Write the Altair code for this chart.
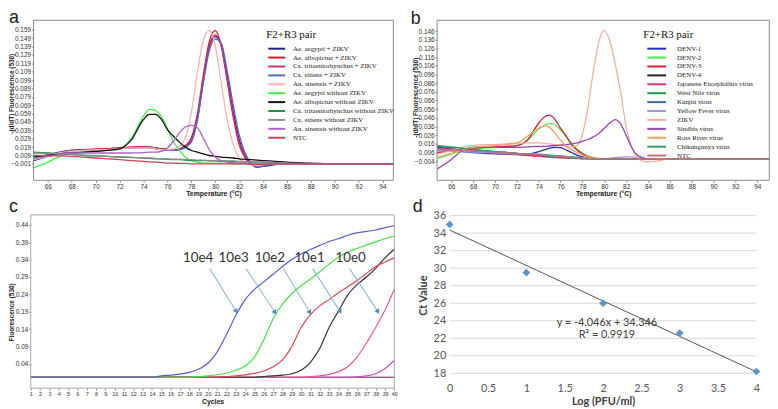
import altair as alt
import pandas as pd

SANS = "Liberation Sans"
SERIF = "Liberation Serif"
CAL = "Lato"

# ---------------- Panel a : melt curves, mosquito samples ----------------
A_TEMP = [64.8, 66, 67, 68, 69, 70, 71, 72, 73, 74, 74.5, 75, 75.5, 76, 76.5, 77, 77.5,
          78, 78.5, 79, 79.5, 80, 80.5, 81, 81.5, 82, 82.5, 83, 83.5, 84, 84.5, 85,
          86, 88, 90, 92, 94, 94.9]
A_NAMES = ["Ae. aegypti + ZIKV", "Ae. albopictus + ZIKV", "Cx. tritaeniorhynchus + ZIKV",
           "Cx. sitiens + ZIKV", "An. sinensis + ZIKV", "Ae. aegypti without ZIKV",
           "Ae. albopictus without ZIKV", "Cx. tritaeniorhynchus without ZIKV",
           "Cx. sitiens without ZIKV", "An. sinensis without ZIKV", "NTC"]
A_COLORS = ["#1e1e8c", "#e8112d", "#c8336a", "#4a6ad2", "#f9b3ac", "#48ee48",
            "#111111", "#1b9640", "#8c8c8c", "#b064c4", "#d0405c"]

A_AEG_ZIKV = [0.003, 0.008, 0.012, 0.015, 0.016, 0.016, 0.017, 0.018, 0.0185, 0.019,
              0.019, 0.018, 0.017, 0.016, 0.015, 0.016, 0.019, 0.026, 0.052, 0.098,
              0.138, 0.151, 0.142, 0.104, 0.062, 0.028, 0.009, -0.001, -0.005, -0.004,
              -0.003, -0.002, -0.001, -0.001, -0.001, -0.001, -0.001, -0.001]
A_ALB_ZIKV = [0.005, 0.009, 0.013, 0.015, 0.016, 0.017, 0.017, 0.018, 0.019, 0.0195,
              0.019, 0.018, 0.017, 0.016, 0.0155, 0.017, 0.021, 0.030, 0.058, 0.105,
              0.145, 0.158, 0.140, 0.098, 0.055, 0.022, 0.006, -0.001, -0.004, -0.003,
              -0.002, -0.001, -0.001, -0.001, -0.001, -0.001, -0.001, -0.001]
A_TRI_ZIKV = [0.004, 0.009, 0.012, 0.014, 0.015, 0.016, 0.017, 0.018, 0.019, 0.019,
              0.019, 0.018, 0.017, 0.016, 0.015, 0.016, 0.020, 0.028, 0.055, 0.100,
              0.140, 0.153, 0.140, 0.100, 0.058, 0.025, 0.008, -0.001, -0.004, -0.003,
              -0.002, -0.001, -0.001, -0.001, -0.001, -0.001, -0.001, -0.001]
A_SIT_ZIKV = [0.006, 0.010, 0.013, 0.015, 0.015, 0.016, 0.016, 0.017, 0.018, 0.018,
              0.018, 0.017, 0.016, 0.015, 0.015, 0.016, 0.019, 0.025, 0.050, 0.095,
              0.134, 0.148, 0.143, 0.110, 0.070, 0.034, 0.012, 0.000, -0.004, -0.004,
              -0.002, -0.001, -0.001, -0.001, -0.001, -0.001, -0.001, -0.001]
A_SIN_ZIKV = [0.004, 0.008, 0.012, 0.014, 0.015, 0.016, 0.016, 0.017, 0.018, 0.018,
              0.018, 0.017, 0.016, 0.016, 0.017, 0.020, 0.030, 0.060, 0.108, 0.146,
              0.158, 0.140, 0.096, 0.052, 0.022, 0.006, 0.000, -0.002, -0.003, -0.002,
              -0.001, -0.001, -0.001, -0.001, -0.001, -0.001, -0.001, -0.001]
A_AEG_NEG = [-0.006, 0.001, 0.008, 0.012, 0.013, 0.014, 0.015, 0.017, 0.030, 0.056,
             0.064, 0.063, 0.055, 0.041, 0.026, 0.015, 0.007, 0.003, 0.001, 0.000,
             0.000, 0.000, 0.000, 0.000, -0.001, -0.001, -0.001, -0.001, -0.001, -0.001,
             -0.001, -0.001, -0.001, -0.001, -0.001, -0.001, -0.001, -0.001]
A_ALB_NEG = [0.008, 0.009, 0.011, 0.012, 0.013, 0.014, 0.015, 0.017, 0.028, 0.052,
             0.058, 0.058, 0.052, 0.040, 0.032, 0.025, 0.019, 0.015, 0.013, 0.011,
             0.009, 0.008, 0.007, 0.0065, 0.006, 0.005, 0.0045, 0.004, 0.0035, 0.003,
             0.0025, 0.002, 0.001, 0.000, -0.001, -0.001, -0.001, -0.001]
A_TRI_NEG = [0.013, 0.012, 0.011, 0.010, 0.009, 0.0085, 0.008, 0.007, 0.0065, 0.006,
             0.0055, 0.005, 0.005, 0.0045, 0.004, 0.004, 0.0035, 0.003, 0.003, 0.003,
             0.0025, 0.0025, 0.002, 0.002, 0.002, 0.0015, 0.0015, 0.001, 0.001, 0.001,
             0.0005, 0.0005, 0.000, -0.001, -0.001, -0.001, -0.001, -0.001]
A_SIT_NEG = [0.012, 0.0115, 0.011, 0.0105, 0.0095, 0.009, 0.008, 0.0075, 0.007, 0.006,
             0.006, 0.0055, 0.005, 0.005, 0.0045, 0.0045, 0.004, 0.004, 0.0035, 0.0035,
             0.003, 0.003, 0.003, 0.0025, 0.0025, 0.002, 0.002, 0.0015, 0.0015, 0.001,
             0.001, 0.0005, 0.000, -0.0005, -0.001, -0.001, -0.001, -0.001]
A_SIN_NEG = [0.006, 0.008, 0.010, 0.012, 0.012, 0.012, 0.012, 0.012, 0.012, 0.0125,
             0.013, 0.013, 0.014, 0.018, 0.026, 0.036, 0.043, 0.045, 0.042, 0.030,
             0.016, 0.007, 0.003, 0.001, 0.0005, 0.000, 0.000, -0.001, -0.001, -0.001,
             -0.001, -0.001, -0.001, -0.001, -0.001, -0.001, -0.001, -0.001]
A_NTC = [0.009, 0.0088, 0.0085, 0.008, 0.007, 0.006, 0.005, 0.004, 0.003, 0.002,
         0.0015, 0.001, 0.0005, 0.000, 0.000, -0.0005, -0.0005, -0.001, -0.001, -0.001,
         -0.001, -0.001, -0.001, -0.001, -0.001, -0.001, -0.001, -0.0015, -0.0015, -0.0015,
         -0.001, -0.001, -0.001, -0.001, -0.001, -0.001, -0.001, -0.001]
A_SERIES = [A_AEG_ZIKV, A_ALB_ZIKV, A_TRI_ZIKV, A_SIT_ZIKV, A_SIN_ZIKV, A_AEG_NEG,
            A_ALB_NEG, A_TRI_NEG, A_SIT_NEG, A_SIN_NEG, A_NTC]
A_XTICKS = [66, 68, 70, 72, 74, 76, 78, 80, 82, 84, 86, 88, 90, 92, 94]
A_YTICKS = [-0.001, 0.009, 0.019, 0.029, 0.039, 0.049, 0.059, 0.069, 0.079, 0.089,
            0.099, 0.109, 0.119, 0.129, 0.139, 0.149, 0.159]
A_XDOM = [64.8, 94.9]
A_YDOM = [-0.0206, 0.1704]

# ---------------- Panel b : melt curves, other viruses ----------------
B_TEMP = [64.7, 66, 67, 68, 69, 70, 71, 72, 73, 74, 74.5, 75, 75.5, 76, 76.5, 77, 77.5,
          78, 78.5, 79, 79.5, 80, 80.5, 81, 81.5, 82, 82.5, 83, 83.5, 84, 84.5, 85,
          86, 88, 90, 92, 94, 95.1]
B_NAMES = ["DENV-1", "DENV-2", "DENV-3", "DENV-4", "Japanese Encephalitis virus",
           "West Nile virus", "Kunjin virus", "Yellow Fever virus", "ZIKV", "Sindbis virus",
           "Ross River virus", "Chikungunya virus", "NTC"]
B_COLORS = ["#2430c4", "#4cf04c", "#d61e40", "#222222", "#e0307a", "#1c9a44", "#3468b8",
            "#9a9ad2", "#f6ae9c", "#9a42b4", "#f0a060", "#2e9e62", "#c07272"]
B_DENV1 = [0.009, 0.008, 0.007, 0.006, 0.005, 0.0045, 0.004, 0.0035, 0.004, 0.007,
           0.009, 0.011, 0.012, 0.0115, 0.009, 0.006, 0.003, 0.001, 0.000, -0.001,
           -0.001, -0.001, -0.001, -0.001, -0.001, -0.001, -0.001, -0.001, -0.001, -0.001,
           -0.001, -0.001, -0.001, -0.001, -0.001, -0.001, -0.001, -0.001]
B_DENV2 = [-0.001, 0.004, 0.008, 0.010, 0.011, 0.012, 0.013, 0.014, 0.020, 0.033,
           0.037, 0.0395, 0.038, 0.032, 0.025, 0.017, 0.010, 0.0055, 0.002, 0.000,
           -0.001, -0.001, -0.001, -0.001, -0.001, -0.001, -0.001, -0.001, -0.001, -0.001,
           -0.001, -0.001, -0.001, -0.001, -0.001, -0.001, -0.001, -0.001]
B_DENV3 = [0.006, 0.008, 0.010, 0.011, 0.012, 0.0125, 0.013, 0.014, 0.021, 0.040,
           0.047, 0.049, 0.044, 0.034, 0.025, 0.015, 0.009, 0.0045, 0.001, 0.000,
           -0.001, -0.001, -0.001, -0.001, -0.001, -0.001, -0.001, -0.001, -0.001, -0.001,
           -0.001, -0.001, -0.001, -0.001, -0.001, -0.001, -0.001, -0.001]
B_DENV4 = [0.012, 0.010, 0.009, 0.008, 0.007, 0.006, 0.005, 0.004, 0.003, 0.002,
           0.0015, 0.001, 0.0005, 0.000, 0.000, -0.0005, -0.0005, -0.001, -0.001, -0.001,
           -0.001, -0.001, -0.001, -0.001, -0.001, -0.001, -0.001, -0.001, -0.001, -0.001,
           -0.001, -0.001, -0.001, -0.001, -0.001, -0.001, -0.001, -0.001]
B_JEV = [0.011, 0.0095, 0.0085, 0.0075, 0.0065, 0.0055, 0.0045, 0.0035, 0.0025, 0.0015,
         0.001, 0.0005, 0.000, 0.000, -0.0005, -0.0005, -0.001, -0.001, -0.001, -0.001,
         -0.001, -0.001, -0.001, -0.001, -0.001, -0.001, -0.001, -0.001, -0.001, -0.001,
         -0.001, -0.001, -0.001, -0.001, -0.001, -0.001, -0.001, -0.001]
B_WNV = [0.014, 0.012, 0.0105, 0.009, 0.008, 0.007, 0.006, 0.005, 0.004, 0.003,
         0.0025, 0.002, 0.0015, 0.001, 0.0005, 0.000, 0.000, -0.0005, -0.001, -0.001,
         -0.001, -0.001, -0.001, -0.001, -0.001, -0.001, -0.001, -0.001, -0.001, -0.001,
         -0.001, -0.001, -0.001, -0.001, -0.001, -0.001, -0.001, -0.001]
B_KUN = [0.013, 0.0115, 0.010, 0.009, 0.008, 0.007, 0.006, 0.005, 0.0045, 0.004,
         0.0035, 0.003, 0.0025, 0.002, 0.0015, 0.001, 0.0005, 0.000, -0.0005, -0.001,
         -0.001, -0.001, -0.001, -0.001, -0.001, -0.001, -0.001, -0.001, -0.001, -0.001,
         -0.001, -0.001, -0.001, -0.001, -0.001, -0.001, -0.001, -0.001]
B_YFV = [0.008, 0.0075, 0.007, 0.0065, 0.006, 0.0055, 0.005, 0.0045, 0.004, 0.0035,
         0.003, 0.0025, 0.002, 0.0015, 0.001, 0.0005, 0.000, 0.000, -0.0005, -0.001,
         -0.001, -0.001, -0.0005, 0.000, 0.0005, 0.001, 0.001, 0.000, -0.001, -0.001,
         -0.001, -0.001, -0.001, -0.001, -0.001, -0.001, -0.001, -0.001]
B_ZIKV = [0.004, 0.008, 0.012, 0.014, 0.015, 0.015, 0.016, 0.0165, 0.017, 0.017,
          0.0165, 0.016, 0.015, 0.0145, 0.013, 0.0125, 0.014, 0.027, 0.058, 0.100,
          0.134, 0.147, 0.135, 0.108, 0.075, 0.036, 0.012, 0.000, -0.004, -0.005,
          -0.0045, -0.0035, -0.001, -0.001, -0.001, -0.001, -0.001, -0.001]
B_SINV = [-0.013, -0.002, 0.008, 0.012, 0.012, 0.012, 0.012, 0.012, 0.0125, 0.013,
          0.013, 0.0135, 0.014, 0.0145, 0.015, 0.016, 0.017, 0.019, 0.021, 0.024,
          0.028, 0.034, 0.040, 0.044, 0.039, 0.026, 0.012, 0.003, 0.000, -0.001,
          -0.001, -0.001, -0.001, -0.001, -0.001, -0.001, -0.001, -0.001]
B_RRV = [0.000, 0.005, 0.009, 0.012, 0.013, 0.014, 0.015, 0.017, 0.025, 0.034,
         0.037, 0.035, 0.028, 0.020, 0.013, 0.009, 0.006, 0.003, 0.001, 0.000,
         -0.001, -0.001, -0.001, -0.001, -0.001, -0.001, -0.001, -0.001, -0.001, -0.001,
         -0.001, -0.001, -0.001, -0.001, -0.001, -0.001, -0.001, -0.001]
B_CHIKV = [0.014, 0.0125, 0.011, 0.0095, 0.008, 0.007, 0.006, 0.005, 0.004, 0.003,
           0.0025, 0.002, 0.0015, 0.001, 0.0005, 0.000, -0.0005, -0.001, -0.001, -0.001,
           -0.001, -0.001, -0.001, -0.001, -0.001, -0.001, -0.001, -0.001, -0.001, -0.001,
           -0.001, -0.001, -0.001, -0.001, -0.001, -0.001, -0.001, -0.001]
B_NTC = [0.010, 0.009, 0.0085, 0.008, 0.007, 0.0065, 0.006, 0.005, 0.004, 0.0035,
         0.003, 0.0025, 0.002, 0.0015, 0.001, 0.0005, 0.000, -0.0005, -0.001, -0.001,
         -0.001, -0.001, -0.001, -0.001, -0.001, -0.001, -0.001, -0.001, -0.001, -0.001,
         -0.001, -0.001, -0.001, -0.001, -0.001, -0.001, -0.001, -0.001]
B_SERIES = [B_DENV1, B_DENV2, B_DENV3, B_DENV4, B_JEV, B_WNV, B_KUN, B_YFV, B_ZIKV,
            B_SINV, B_RRV, B_CHIKV, B_NTC]
B_YTICKS = [-0.004, 0.006, 0.016, 0.026, 0.036, 0.046, 0.056, 0.066, 0.076, 0.086,
            0.096, 0.106, 0.116, 0.126, 0.136, 0.146]
B_XDOM = [64.7, 95.1]
B_YDOM = [-0.0261, 0.1586]

# ---------------- Panel c : amplification curves ----------------
C_CYCLES = [1, 2, 3, 4, 5, 6, 7, 8, 9, 10, 11, 12, 13, 14, 15, 16, 17, 18, 19, 20,
            21, 22, 23, 24, 25, 26, 27, 28, 29, 30, 31, 32, 33, 34, 35, 36, 37, 38, 39, 40]
C_NAMES = ["flat1", "flat2", "low", "10e0", "10e1", "10e2", "10e3", "10e4"]
C_COLORS = ["#f0a040", "#7040a0", "#c850c8", "#f0578a", "#333333", "#e5434f", "#44e044", "#5a5ad8"]
C_FLAT1 = [0.002, 0.002, 0.002, 0.002, 0.002, 0.002, 0.002, 0.002, 0.002, 0.002,
           0.002, 0.002, 0.002, 0.002, 0.002, 0.002, 0.002, 0.002, 0.002, 0.002,
           0.002, 0.002, 0.002, 0.002, 0.002, 0.002, 0.002, 0.002, 0.002, 0.002,
           0.002, 0.002, 0.002, 0.002, 0.002, 0.002, 0.002, 0.002, 0.002, 0.002]
C_FLAT2 = [0.002, 0.002, 0.002, 0.0015, 0.002, 0.002, 0.002, 0.002, 0.002, 0.002,
           0.002, 0.002, 0.002, 0.002, 0.002, 0.002, 0.002, 0.002, 0.002, 0.002,
           0.002, 0.002, 0.002, 0.002, 0.002, 0.002, 0.002, 0.002, 0.002, 0.002,
           0.002, 0.002, 0.002, 0.002, 0.002, 0.002, 0.002, 0.002, 0.002, 0.002]
C_LOW = [0.002, 0.002, 0.002, 0.002, 0.002, 0.002, 0.002, 0.002, 0.002, 0.002,
         0.002, 0.002, 0.002, 0.002, 0.002, 0.002, 0.002, 0.002, 0.002, 0.002,
         0.002, 0.002, 0.002, 0.002, 0.002, 0.002, 0.002, 0.002, 0.002, 0.002,
         0.002, 0.002, 0.002, 0.002, 0.002, 0.003, 0.006, 0.012, 0.027, 0.050]
C_10E0 = [0.002, 0.002, 0.002, 0.002, 0.002, 0.002, 0.002, 0.002, 0.002, 0.002,
          0.002, 0.002, 0.002, 0.002, 0.002, 0.002, 0.002, 0.002, 0.002, 0.002,
          0.002, 0.002, 0.002, 0.002, 0.002, 0.002, 0.002, 0.002, 0.002, 0.002,
          0.004, 0.006, 0.010, 0.018, 0.032, 0.060, 0.100, 0.145, 0.195, 0.255]
C_10E1 = [0.002, 0.002, 0.002, 0.002, 0.002, 0.002, 0.002, 0.002, 0.002, 0.002,
          0.002, 0.002, 0.002, 0.002, 0.002, 0.002, 0.002, 0.002, 0.002, 0.002,
          0.002, 0.002, 0.002, 0.002, 0.002, 0.004, 0.006, 0.008, 0.012, 0.022,
          0.045, 0.085, 0.145, 0.192, 0.238, 0.268, 0.290, 0.315, 0.345, 0.370]
C_10E2 = [0.002, 0.002, 0.002, 0.002, 0.002, 0.002, 0.002, 0.002, 0.002, 0.002,
          0.002, 0.002, 0.002, 0.002, 0.002, 0.002, 0.002, 0.002, 0.002, 0.002,
          0.002, 0.004, 0.006, 0.009, 0.013, 0.020, 0.032, 0.052, 0.090, 0.145,
          0.182, 0.207, 0.225, 0.245, 0.262, 0.280, 0.300, 0.320, 0.333, 0.345]
C_10E3 = [0.002, 0.002, 0.002, 0.002, 0.002, 0.002, 0.002, 0.002, 0.002, 0.002,
          0.002, 0.002, 0.002, 0.002, 0.002, 0.002, 0.002, 0.002, 0.004, 0.006,
          0.009, 0.014, 0.022, 0.034, 0.060, 0.110, 0.170, 0.212, 0.242, 0.265,
          0.284, 0.305, 0.327, 0.347, 0.362, 0.372, 0.382, 0.391, 0.400, 0.408]
C_10E4 = [0.002, 0.002, 0.002, 0.002, 0.002, 0.002, 0.002, 0.002, 0.002, 0.002,
          0.002, 0.002, 0.002, 0.002, 0.006, 0.008, 0.011, 0.016, 0.025, 0.042,
          0.075, 0.125, 0.180, 0.225, 0.255, 0.276, 0.298, 0.320, 0.340, 0.356,
          0.369, 0.381, 0.392, 0.400, 0.410, 0.417, 0.421, 0.425, 0.432, 0.438]
C_SERIES = [C_FLAT1, C_FLAT2, C_LOW, C_10E0, C_10E1, C_10E2, C_10E3, C_10E4]
C_YTICKS = [0.04, 0.09, 0.14, 0.19, 0.24, 0.29, 0.34, 0.39, 0.44]
C_XDOM = [1, 40]
C_YDOM = [-0.0293, 0.4684]
C_LABELS = ["10e4", "10e3", "10e2", "10e1", "10e0"]
C_LABEL_CYC = [18.95, 22.75, 26.65, 30.9, 35.3]
C_LABEL_F = [0.345, 0.345, 0.345, 0.345, 0.345]
C_ARROW_FROM_CYC = [20.2, 24.1, 28.1, 31.25, 35.2]
C_ARROW_FROM_F = [0.314, 0.314, 0.314, 0.314, 0.314]
C_ARROW_TO_CYC = [23.0, 27.15, 30.9, 34.15, 38.2]
C_ARROW_TO_F = [0.193, 0.190, 0.190, 0.192, 0.192]

# ---------------- Panel d : standard curve ----------------
D_LOG = [0, 1, 2, 3, 4]
D_CT = [35.0, 29.5, 26.0, 22.6, 18.2]
D_XTICKS = [0, 0.5, 1, 1.5, 2, 2.5, 3, 3.5, 4]
D_YTICKS = [18, 20, 22, 24, 26, 28, 30, 32, 34, 36]
D_EQ = ["y = -4.046x + 34.346", "R\u00b2 = 0.9919"]
D_EQ_X = [2.05, 2.05]
D_EQ_Y = [23.7, 22.35]

ONE = pd.DataFrame({"k": [0]})


def melt(xs, names, series):
    rows = []
    for name, vals in zip(names, series):
        assert len(vals) == len(xs), (name, len(vals))
        for x, v in zip(xs, vals):
            rows.append({"x": x, "v": v, "series": name})
    return pd.DataFrame(rows)


def small_axes(xoff, yoff, xvals, yvals, yfmt, xtitle, ytitle, ytitle_x, ytitle_y, xtitle_y,
               lab=6.5, xlab=6.5):
    ax = alt.Axis(orient="bottom", offset=xoff, values=xvals, format="d", title=xtitle,
                  labelFont=SANS, labelFontSize=xlab, labelColor="#333333", labelPadding=1,
                  labelFlush=False, labelOverlap=False, labelSeparation=-30,
                  tickSize=2, tickColor="#888888",
                  domain=False, grid=False, titleFont=SANS, titleFontSize=7,
                  titleFontWeight="bold", titleColor="#222222", titleY=xtitle_y)
    ay = alt.Axis(orient="left", offset=yoff, values=yvals, format=yfmt, title=ytitle,
                  labelFont=SANS, labelFontSize=lab, labelColor="#333333", labelPadding=1,
                  labelFlush=False, labelOverlap=False, labelSeparation=-30,
                  tickSize=2, tickColor="#888888",
                  domain=False, grid=False, titleFont=SANS, titleFontSize=6.5,
                  titleFontWeight="bold", titleColor="#222222", titleX=ytitle_x, titleY=ytitle_y)
    return ax, ay


def frame(sx, sy, xdom, ydom, color, ax, ay):
    return alt.Chart(ONE).mark_rect(fillOpacity=0, stroke=color, strokeWidth=1).encode(
        x=alt.XDatum(xdom[0], scale=sx, axis=ax), x2=alt.X2Datum(xdom[1]),
        y=alt.YDatum(ydom[0], scale=sy, axis=ay), y2=alt.Y2Datum(ydom[1]))


def melt_legend(x, y, length, label_offset, sym_offset):
    return alt.Legend(orient="none", legendX=x, legendY=y, direction="vertical",
                      title="F2+R3 pair", titleFont=SERIF, titleFontSize=11,
                      titleFontWeight="normal", titleColor="#111111", titlePadding=5,
                      labelFont=SERIF, labelFontSize=7, labelColor="#222222",
                      labelOffset=label_offset, labelLimit=250,
                      symbolType="M-1,0H%.2f" % (length / 3.0 - 1), symbolSize=36,
                      symbolStrokeWidth=2, symbolOffset=sym_offset, rowPadding=1, padding=0)


# ---- panel a
sx_a = alt.Scale(domain=A_XDOM, range=[25.8, 389.4], nice=False, zero=False)
sy_a = alt.Scale(domain=A_YDOM, range=[172.0, 10.3], nice=False, zero=False)
ax_a, ay_a = small_axes(-229, -25.8, A_XTICKS, A_YTICKS, ".3f", "Temperature (\u00b0C)",
                        "-(d/dT) Fluorescence (530)", -18.8, 84, 9)
lines_a = alt.Chart(melt(A_TEMP, A_NAMES, A_SERIES)).mark_line(
    strokeWidth=1.3, interpolate="monotone").encode(
    x=alt.X("x:Q", scale=sx_a, axis=ax_a),
    y=alt.Y("v:Q", scale=sy_a, axis=ay_a),
    color=alt.Color("series:N", scale=alt.Scale(domain=A_NAMES, range=A_COLORS),
                    legend=melt_legend(261, 19, 17, 18, 1)))
panel_a = alt.layer(lines_a, frame(sx_a, sy_a, A_XDOM, A_YDOM, "#8a8a8a", ax_a, ay_a))

# ---- panel b
sx_b = alt.Scale(domain=B_XDOM, range=[433.6, 769.3], nice=False, zero=False)
sy_b = alt.Scale(domain=B_YDOM, range=[172.0, 10.3], nice=False, zero=False)
ax_b, ay_b = small_axes(-229, -433.6, A_XTICKS, B_YTICKS, ".3f", "Temperature (\u00b0C)",
                        "-(d/dT) Fluorescence (530)", -18.6, 88, 9)
lines_b = alt.Chart(melt(B_TEMP, B_NAMES, B_SERIES)).mark_line(
    strokeWidth=1.3, interpolate="monotone").encode(
    x=alt.X("x:Q", scale=sx_b, axis=ax_b),
    y=alt.Y("v:Q", scale=sy_b, axis=ay_b),
    color=alt.Color("series:N", scale=alt.Scale(domain=B_NAMES, range=B_COLORS),
                    legend=melt_legend(642, 19, 19, 23, 3)))
panel_b = alt.layer(lines_b, frame(sx_b, sy_b, B_XDOM, B_YDOM, "#8a8a8a", ax_b, ay_b))

# ---- panel c
sx_c = alt.Scale(domain=C_XDOM, range=[23.0, 390.4], nice=False, zero=False)
sy_c = alt.Scale(domain=C_YDOM, range=[382.0, 207.0], nice=False, zero=False)
ax_c, ay_c = small_axes(-19, -23, C_CYCLES, C_YTICKS, ".2f", "Cycles",
                        "Fluorescence (530)", -16, 305, 10, lab=6.5, xlab=5.5)
lines_c = alt.Chart(melt(C_CYCLES, C_NAMES, C_SERIES)).mark_line(
    strokeWidth=1.2, interpolate="monotone").encode(
    x=alt.X("x:Q", scale=sx_c, axis=ax_c),
    y=alt.Y("v:Q", scale=sy_c, axis=ay_c),
    color=alt.Color("series:N", scale=alt.Scale(domain=C_NAMES, range=C_COLORS), legend=None))
arrows_df = pd.DataFrame({"x": C_ARROW_FROM_CYC, "v": C_ARROW_FROM_F,
                          "x2": C_ARROW_TO_CYC, "v2": C_ARROW_TO_F})
arrow_lines = alt.Chart(arrows_df).mark_rule(color="#8fbad8", strokeWidth=1.1).encode(
    x=alt.X("x:Q", scale=sx_c, axis=ax_c), y=alt.Y("v:Q", scale=sy_c, axis=ay_c),
    x2="x2:Q", y2="v2:Q")
arrow_heads = alt.Chart(arrows_df).mark_point(
    shape="triangle", angle=148, filled=True, size=30, color="#4b8fc2", opacity=1).encode(
    x=alt.X("x2:Q", scale=sx_c, axis=ax_c), y=alt.Y("v2:Q", scale=sy_c, axis=ay_c))
labels_c = alt.Chart(pd.DataFrame({"x": C_LABEL_CYC, "v": C_LABEL_F, "t": C_LABELS})).mark_text(
    font=CAL, fontSize=13.5, color="#333333").encode(
    x=alt.X("x:Q", scale=sx_c, axis=ax_c), y=alt.Y("v:Q", scale=sy_c, axis=ay_c), text="t:N")
panel_c = alt.layer(lines_c, frame(sx_c, sy_c, C_XDOM, C_YDOM, "#a8a8a8", ax_c, ay_c),
                    arrow_lines, arrow_heads, labels_c)

# ---- panel d
sx_d = alt.Scale(domain=[D_XTICKS[0], D_XTICKS[-1]], range=[446.3, 756.3], nice=False, zero=False)
sy_d = alt.Scale(domain=[D_YTICKS[0], D_YTICKS[-1]], range=[367.0, 207.7], nice=False, zero=False)
ax_d = alt.Axis(orient="bottom", offset=-34, values=D_XTICKS, format="~g",
                title="Log (PFU/ml)", labelFont=CAL, labelFontSize=11,
                labelColor="#595959", labelPadding=9, labelFlush=False,
                ticks=False, tickSize=0, domain=False, grid=False,
                titleFont=CAL, titleFontSize=11, titleFontWeight="bold",
                titleColor="#404040", titleY=22.5)
ay_d = alt.Axis(orient="left", offset=-446.3, values=D_YTICKS, format="d",
                title="Ct Value", labelFont=CAL, labelFontSize=11,
                labelColor="#595959", labelPadding=4, labelFlush=False,
                ticks=False, tickSize=0, domain=False, grid=False,
                titleFont=CAL, titleFontSize=11, titleFontWeight="bold",
                titleColor="#404040", titleX=-21.5, titleY=288)
d_pts = pd.DataFrame({"logpfu": D_LOG, "ct": D_CT})
pts_d = alt.Chart(d_pts).mark_point(shape="diamond", filled=True, size=60,
                                    color="#5b93cc", opacity=1).encode(
    x=alt.X("logpfu:Q", scale=sx_d, axis=ax_d),
    y=alt.Y("ct:Q", scale=sy_d, axis=ay_d))
grid_d = alt.Chart(pd.DataFrame({"ct": D_YTICKS})).mark_rule(color="#d9d9d9", strokeWidth=1).encode(
    y=alt.Y("ct:Q", scale=sy_d, axis=ay_d),
    x=alt.XDatum(D_XTICKS[0], scale=sx_d, axis=ax_d), x2=alt.X2Datum(D_XTICKS[-1]))
fit_d = alt.Chart(d_pts).transform_regression("logpfu", "ct").mark_line(
    color="#555555", strokeWidth=1).encode(
    x=alt.X("logpfu:Q", scale=sx_d, axis=ax_d), y=alt.Y("ct:Q", scale=sy_d, axis=ay_d))
eq_d = alt.Chart(pd.DataFrame({"logpfu": D_EQ_X, "ct": D_EQ_Y, "t": D_EQ})).mark_text(
    font=CAL, fontSize=11, color="#404040").encode(
    x=alt.X("logpfu:Q", scale=sx_d, axis=ax_d), y=alt.Y("ct:Q", scale=sy_d, axis=ay_d),
    text="t:N")
panel_d = alt.layer(grid_d, fit_d, pts_d, eq_d)

# ---- panel letters
LETTERS = ["a", "b", "c", "d"]
letter_layers = []
for t, lx, ly in zip(LETTERS, [1, 407, 1, 409], [13, 14, 204, 204]):
    letter_layers.append(alt.Chart(ONE).mark_text(
        text=t, font=SANS, fontSize=18, align="left", baseline="alphabetic", color="#222222"
    ).encode(x=alt.value(lx), y=alt.value(ly)))
letters = alt.layer(*letter_layers)

chart = alt.layer(panel_a, panel_b, panel_c, panel_d, letters).resolve_scale(
    x="independent", y="independent", color="independent"
).resolve_axis(x="independent", y="independent").resolve_legend(
    color="independent"
).properties(
    width=770, height=401, padding=0, background="white",
    autosize=alt.AutoSizeParams(type="none")
).configure_view(stroke=None).configure_axis(labelOverlap=False)

chart.save("out.html", embed_options={"renderer": "svg", "actions": False})
